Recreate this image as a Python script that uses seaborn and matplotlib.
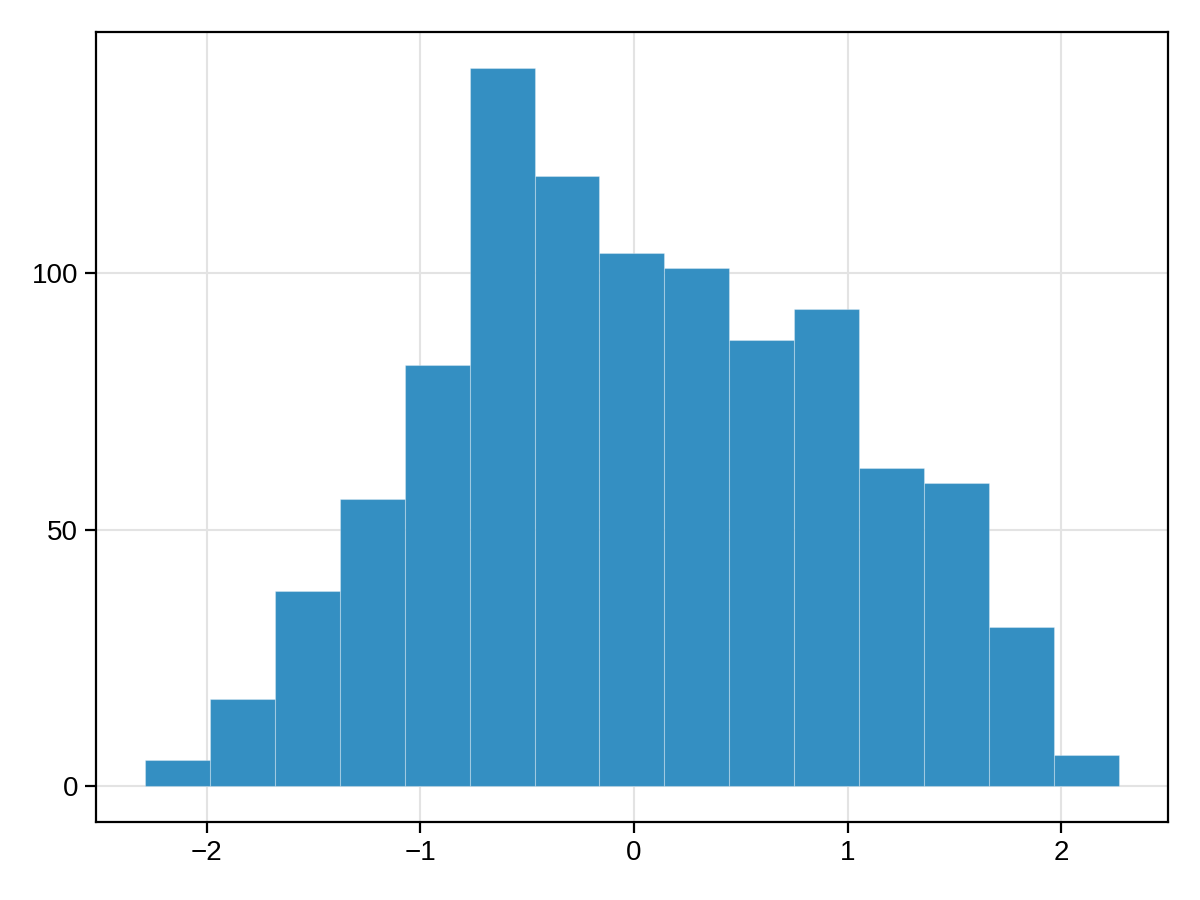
import numpy as np
import pandas as pd
import matplotlib
matplotlib.use("Agg")
import matplotlib.pyplot as plt
import seaborn as sns

# Histogram data
bin_start = -2.290
bin_end = 2.272
counts = [5, 17, 38, 56, 82, 140, 119, 104, 101, 87, 93, 62, 59, 31, 6]
x_ticks = [-2, -1, 0, 1, 2]
y_ticks = [0, 50, 100]

edges = np.linspace(bin_start, bin_end, len(counts) + 1)
centers = (edges[:-1] + edges[1:]) / 2
df = pd.DataFrame({"x": centers, "w": np.asarray(counts, dtype=float)})

sns.set_theme(style="white")
plt.rcParams['font.family'] = ['Liberation Sans', 'DejaVu Sans']

fig = plt.figure(figsize=(12, 9), dpi=100)
ax = fig.add_axes([0.08, 0.0867, 0.8933, 0.8777])

sns.histplot(data=df, x="x", weights="w", bins=edges.tolist(), ax=ax,
             color='#348FC2', alpha=1.0, edgecolor=(1, 1, 1, 0.3),
             linewidth=0.8, zorder=2)

span = bin_end - bin_start
ax.set_xlim(bin_start - 0.05 * span, bin_end + 0.05 * span)
ymax = max(counts)
ax.set_ylim(-0.05 * ymax, ymax * 1.05)

ax.set_xticks(x_ticks)
ax.set_yticks(y_ticks)
ax.set_xlabel("")
ax.set_ylabel("")
ax.grid(True, color='#e3e3e3', linewidth=1.5, zorder=0)
ax.set_axisbelow(True)
for s in ax.spines.values():
    s.set_color('black')
    s.set_linewidth(1.6)
ax.tick_params(axis='both', which='major', direction='out', length=8,
               width=1.6, color='black', labelsize=20, pad=5,
               bottom=True, left=True, labelcolor='black')

fig.savefig("out.png", dpi=100)
